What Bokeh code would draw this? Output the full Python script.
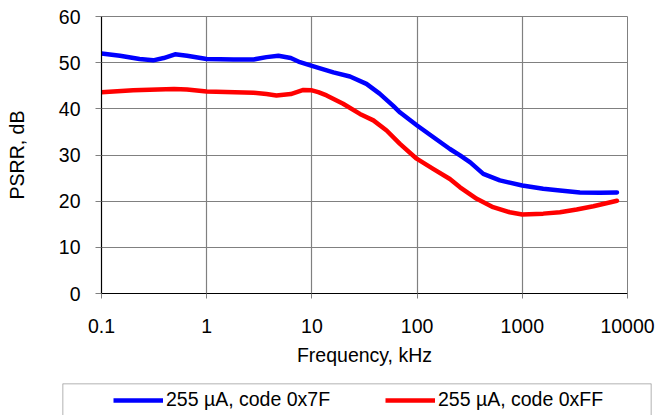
from bokeh.plotting import figure
from bokeh.models import (Range1d, FixedTicker, Legend, LegendItem, Span)
from bokeh.layouts import column
from bokeh.embed import file_html
from bokeh.resources import INLINE

# ---- data ----
freq_blue = [0.1, 0.15, 0.23, 0.31, 0.39, 0.5, 0.65, 1.0, 1.8, 2.8, 3.7, 4.8, 6.3, 7.7,
             10, 16, 23, 33, 44, 59, 69, 100, 142, 205, 256, 320, 426, 612,
             1000, 1580, 2280, 3530, 5470, 7940]
psrr_blue = [52.0, 51.5, 50.8, 50.5, 51.0, 51.8, 51.5, 50.8, 50.7, 50.7, 51.2, 51.5, 51.0, 50.1,
             49.3, 47.9, 47.0, 45.4, 43.3, 40.7, 39.2, 36.4, 33.9, 31.3, 29.9, 28.4, 25.9, 24.5,
             23.4, 22.7, 22.3, 21.9, 21.8, 21.9]

freq_red = [0.1, 0.2, 0.49, 0.65, 1.0, 2.8, 3.7, 4.6, 6.3, 8.3, 10, 11.5, 13.8, 19.8,
            28.6, 38.4, 51.3, 68.7, 99, 142, 205, 256, 369, 528, 760,
            1000, 1580, 2280, 3290, 4740, 7940]
psrr_red = [43.6, 44.0, 44.3, 44.2, 43.75, 43.5, 43.2, 42.9, 43.2, 44.1, 44.0, 43.6, 42.9, 41.1,
            38.9, 37.5, 35.3, 32.4, 29.2, 27.0, 24.8, 23.0, 20.5, 18.7, 17.6,
            17.1, 17.3, 17.6, 18.2, 18.9, 20.1]

x_ticks = [0.1, 1, 10, 100, 1000, 10000]
x_tick_labels = ["0.1", "1", "10", "100", "1000", "10000"]
y_ticks = [0, 10, 20, 30, 40, 50, 60]

series_labels = ["255 µA, code 0x7F", "255 µA, code 0xFF"]
series_colors = ["#0000FF", "#FF0000"]

FONT = "Liberation Sans"
FS = "19.5px"

p = figure(width=655, height=383, x_axis_type="log",
           x_range=Range1d(0.1, 10000), y_range=Range1d(0, 60),
           output_backend="svg", toolbar_location=None,
           min_border_left=101, min_border_right=28, min_border_top=16,
           min_border_bottom=90)
p.frame_align = False

p.outline_line_color = "#808080"
p.outline_line_width = 1

for g in (p.xgrid, p.ygrid):
    g.grid_line_color = "#808080"
    g.grid_line_width = 1.2

p.xaxis.ticker = FixedTicker(ticks=x_ticks, minor_ticks=[])
p.xaxis.major_label_overrides = {t: l for t, l in zip(x_ticks, x_tick_labels)}
p.yaxis.ticker = FixedTicker(ticks=y_ticks, minor_ticks=[])

for ax in (p.xaxis, p.yaxis):
    ax.axis_line_color = "black"
    ax.axis_line_width = 1.2
    ax.major_tick_line_color = "#808080"
    ax.major_tick_in = 0
    ax.minor_tick_line_color = None
    ax.major_label_text_font = FONT
    ax.major_label_text_font_size = FS
    ax.major_label_text_color = "black"
    ax.axis_label_text_font = FONT
    ax.axis_label_text_font_size = FS
    ax.axis_label_text_font_style = "normal"
    ax.axis_label_text_color = "black"

p.xaxis.major_tick_out = 5
p.yaxis.major_tick_out = 6
p.xaxis.major_label_standoff = 20
p.yaxis.major_label_standoff = 15
p.xaxis.axis_label = "Frequency, kHz"
p.yaxis.axis_label = "PSRR, dB"
p.xaxis.axis_label_standoff = 8
p.yaxis.axis_label_standoff = 28

p.line(freq_blue, psrr_blue, line_color=series_colors[0], line_width=4.5,
       line_join="round", line_cap="round")
p.line(freq_red, psrr_red, line_color=series_colors[1], line_width=4.5,
       line_join="round", line_cap="round")

# ---- legend panel (box below the chart, cut by the window like the reference) ----
lp = figure(width=655, height=32, x_range=Range1d(0, 1), y_range=Range1d(0, 1),
            output_backend="svg", toolbar_location=None,
            min_border_left=62, min_border_right=4, min_border_top=0,
            min_border_bottom=0)
lp.frame_align = False
lp.axis.visible = False
lp.grid.visible = False
lp.outline_line_color = None
for loc, dim in [(1, "width"), (0, "height"), (1, "height")]:
    lp.add_layout(Span(location=loc, dimension=dim, line_color="#999999", line_width=1.5))

# series drawn again here only so the legend has glyphs (they fall outside this panel's ranges)
legend_series = [(freq_blue, psrr_blue), (freq_red, psrr_red)]
for (fx, fy), lab, col, loc in zip(legend_series, series_labels, series_colors,
                                   [(51, 4), (323, 4)]):
    r = lp.line(fx, fy, line_color=col, line_width=4.5)
    lg = Legend(items=[LegendItem(label=lab, renderers=[r])], location=loc,
                orientation="horizontal", padding=0, margin=0,
                border_line_alpha=0, background_fill_alpha=0,
                glyph_width=50, label_standoff=3,
                label_text_font=FONT, label_text_font_size=FS,
                label_text_color="black")
    lp.add_layout(lg)

layout = column(p, lp, spacing=0)
open("out.html", "w").write(file_html(layout, INLINE))
